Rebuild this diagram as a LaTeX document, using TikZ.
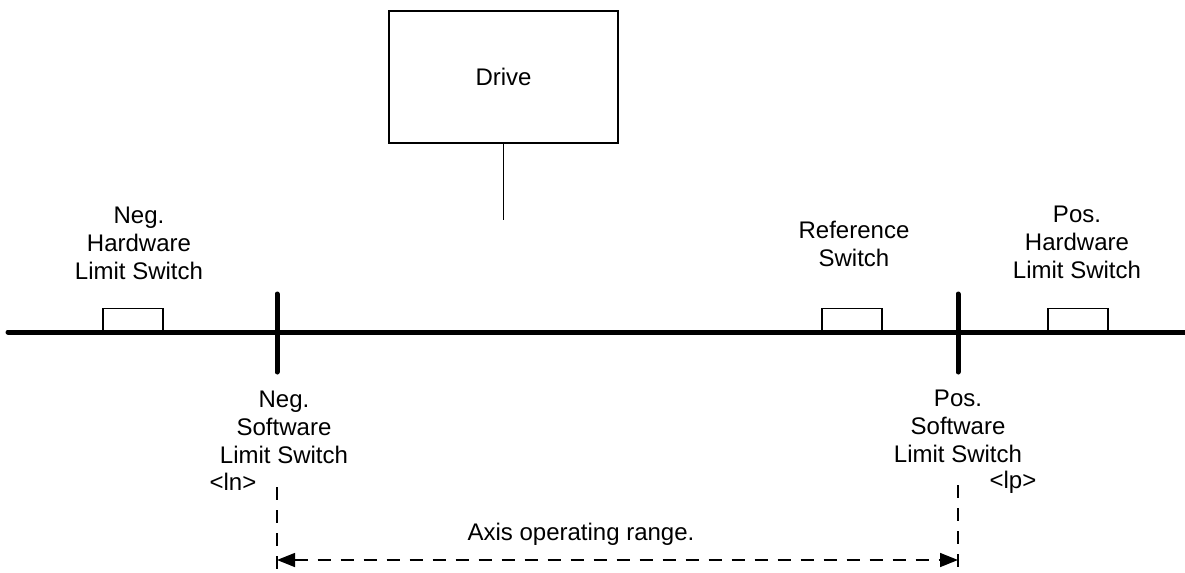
\documentclass[tikz,border=0pt]{standalone}
\usepackage{fontspec}
\setmainfont{Liberation Sans}
\usetikzlibrary{positioning, calc, arrows.meta}

\tikzset{
  txt/.style={font=\fontsize{12}{14}\selectfont},
  axis/.style={line width=2.5pt, line cap=round},
  limit/.style={line width=2.5pt, line cap=round},
  switchbox/.style={draw, line width=0.75pt, minimum width=30pt, minimum height=11.5pt, inner sep=0pt, anchor=south},
  caption/.style={txt, align=center, inner sep=0pt, anchor=north},
  rangeline/.style={line width=0.75pt, dash pattern=on 6.5pt off 5pt},
}

\begin{document}
\begin{tikzpicture}[x=0.5pt, y=-0.5pt]
\useasboundingbox (0,0) rectangle (1185,573);

% drive
\node [draw, txt, line width=0.75pt, minimum width=114.5pt, minimum height=66pt] (drive) at (503.5,77) {Drive};
\coordinate (drivetap) at (503.5,220);
\draw [line width=0.75pt] (drive.south) -- (drivetap);

% switches on the axis
\node [switchbox] (neghwbox) at (133,332) {};
\node [switchbox] (refbox) at (852,332) {};
\node [switchbox] (poshwbox) at (1078,332) {};

\coordinate (axisl) at (8,332);
\coordinate (axisr) at (1192,332);
\draw [axis] (axisl) -- (axisr);

% software limits
\coordinate (negtop) at (277,294);
\coordinate (negbot) at (277,372);
\coordinate (postop) at (958,294);
\coordinate (posbot) at (958,372);
\draw [limit] (negtop) -- (negbot);
\draw [limit] (postop) -- (posbot);

\node [caption] (neghw) at (139,207) {Neg.\\Hardware\\Limit Switch};
\node [caption] (refsw) at (854,221) {Reference\\Switch};
\node [caption] (poshw) at (1077,206) {Pos.\\Hardware\\Limit Switch};
\node [caption] (negsw) at (284,391) {Neg.\\Software\\Limit Switch};
\node [caption] (possw) at (958,390) {Pos.\\Software\\Limit Switch};
\node [txt, anchor=base, inner sep=0pt] (lntext) at (233,490) {<ln>};
\node [txt, anchor=base, inner sep=0pt] (lptext) at (1013,488) {<lp>};

% operating range
\coordinate (negdtop) at (277,487);
\coordinate (negdbot) at (277,576);
\coordinate (posdtop) at (958,485);
\coordinate (posdbot) at (958,576);
\draw [rangeline] (negdtop) -- (negdbot);
\draw [rangeline] (posdtop) -- (posdbot);

\coordinate (rangel) at (277,560);
\coordinate (ranger) at (958,560);
\draw [rangeline, {Triangle[length=9pt, width=7pt]}-{Triangle[length=9pt, width=7pt]}] (rangel) -- (ranger);
\node [txt, anchor=base, inner sep=0pt] (rangetext) at (581,540) {Axis operating range.};

\end{tikzpicture}
\end{document}
